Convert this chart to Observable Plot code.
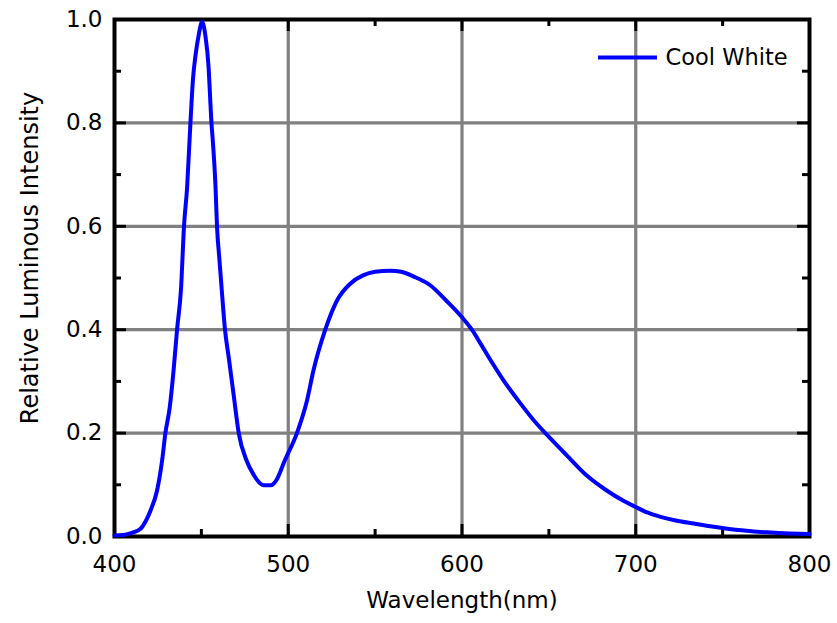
<!DOCTYPE html>
<html>
<head>
<meta charset="utf-8">
<script src="https://cdn.jsdelivr.net/npm/d3@7"></script>
<script src="https://cdn.jsdelivr.net/npm/@observablehq/plot@0.6"></script>
<style>
  html, body { margin: 0; padding: 0; background: #fff; }
  #chart svg { display: block; }
</style>
</head>
<body>
<div id="chart"></div>
<script>
// Data
const wavelength = [400, 405, 410, 415, 418, 420.7, 424.5, 427.4, 429.3, 431.8, 434.1, 436, 438.3, 440, 441.8, 443.7, 445.2, 446.6, 448.4, 450.4, 452.3, 454.2, 455.2, 455.8, 456.5, 458.1, 459, 460.4, 462, 463.6, 465.8, 468.6, 471.5, 476, 480, 484, 486, 490, 493, 498, 505, 510.8, 514.5, 521.3, 528, 535.7, 543, 550, 558.7, 565, 572, 581.7, 591, 600, 605.7, 610.5, 617, 623.9, 633.5, 643, 648.8, 660.3, 671.8, 683.3, 692.9, 700, 707, 714.3, 723, 733.5, 752.7, 775.7, 799, 800];
const intensity = [0.002, 0.003, 0.007, 0.015, 0.03, 0.05, 0.089, 0.147, 0.2, 0.25, 0.325, 0.4, 0.48, 0.6, 0.676, 0.8, 0.886, 0.93, 0.969, 0.995, 0.969, 0.905, 0.838, 0.8, 0.769, 0.679, 0.6, 0.535, 0.465, 0.4, 0.345, 0.273, 0.2, 0.147, 0.12, 0.102, 0.099, 0.099, 0.108, 0.147, 0.2, 0.263, 0.321, 0.4, 0.456, 0.489, 0.505, 0.512, 0.514, 0.512, 0.503, 0.486, 0.456, 0.424, 0.4, 0.374, 0.338, 0.302, 0.258, 0.218, 0.197, 0.157, 0.118, 0.089, 0.069, 0.057, 0.046, 0.038, 0.031, 0.025, 0.015, 0.008, 0.005, 0.005];
const seriesName = "Cool White";

const xMajor = [400, 500, 600, 700, 800];
const xMinor = [450, 550, 650, 750];
const xGrid = [500, 600, 700];
const yMajor = [0, 0.2, 0.4, 0.6, 0.8, 1.0];
const yMinor = [0.1, 0.3, 0.5, 0.7, 0.9];
const yGrid = [0.2, 0.4, 0.6, 0.8];
const xLabel = "Wavelength(nm)";
const yLabel = "Relative Luminous Intensity";

const data = wavelength.map((w, i) => ({w, v: intensity[i]}));

const W = 837, H = 623;
const mt = 19, mb = 87, ml = 114, mr = 28;
const plotW = W - ml - mr, plotH = H - mt - mb;
const majorLen = 12, minorLen = 7;
const font = "DejaVu Sans";
const blue = "#0000ff";

function legendSwatch(index, scales, values, dims) {
  const x1 = dims.width - dims.marginRight - 211;
  const x2 = dims.width - dims.marginRight - 152;
  const y = dims.marginTop + 38.5;
  const line = document.createElementNS("http://www.w3.org/2000/svg", "line");
  line.setAttribute("x1", x1); line.setAttribute("x2", x2);
  line.setAttribute("y1", y); line.setAttribute("y2", y);
  line.setAttribute("stroke", blue);
  line.setAttribute("stroke-width", 4);
  return line;
}

const tickStyle = {stroke: "black", strokeWidth: 3};

const chart = Plot.plot({
  width: W, height: H,
  marginTop: mt, marginBottom: mb, marginLeft: ml, marginRight: mr,
  style: {fontFamily: font, background: "#fff", color: "black"},
  x: {domain: [400, 800]},
  y: {domain: [0, 1]},
  marks: [
    Plot.ruleX(xGrid, {x: d => d, stroke: "#808080", strokeWidth: 3.2}),
    Plot.ruleY(yGrid, {y: d => d, stroke: "#808080", strokeWidth: 3.2}),
    // inward ticks: bottom, top
    Plot.ruleX(xMajor, {x: d => d, insetTop: plotH - majorLen, ...tickStyle}),
    Plot.ruleX(xMajor, {x: d => d, insetBottom: plotH - majorLen, ...tickStyle}),
    Plot.ruleX(xMinor, {x: d => d, insetTop: plotH - minorLen, ...tickStyle}),
    Plot.ruleX(xMinor, {x: d => d, insetBottom: plotH - minorLen, ...tickStyle}),
    // inward ticks: left, right
    Plot.ruleY(yMajor, {y: d => d, insetRight: plotW - majorLen, ...tickStyle}),
    Plot.ruleY(yMajor, {y: d => d, insetLeft: plotW - majorLen, ...tickStyle}),
    Plot.ruleY(yMinor, {y: d => d, insetRight: plotW - minorLen, ...tickStyle}),
    Plot.ruleY(yMinor, {y: d => d, insetLeft: plotW - minorLen, ...tickStyle}),
    Plot.frame({stroke: "black", strokeWidth: 4}),
    Plot.line(data, {x: "w", y: "v", stroke: blue, strokeWidth: 4, strokeLinejoin: "round", curve: "monotone-x"}),
    Plot.axisX({ticks: xMajor, tickSize: 0, tickPadding: 19, fontSize: 23, label: null, tickFormat: d3.format("d")}),
    Plot.axisY({ticks: yMajor, tickSize: 0, tickPadding: 12, fontSize: 23, label: null, tickFormat: d3.format(".1f")}),
    Plot.text([xLabel], {text: d => d, frameAnchor: "bottom", dy: 64.6, textAnchor: "middle", lineAnchor: "middle", fontSize: 23, fill: "black"}),
    Plot.text([yLabel], {text: d => d, frameAnchor: "left", dx: -84, dy: -20, rotate: -90, textAnchor: "middle", lineAnchor: "middle", fontSize: 24, fill: "black"}),
    Plot.text([seriesName], {text: d => d, frameAnchor: "top-right", dx: -144, dy: 38.5, textAnchor: "start", lineAnchor: "middle", fontSize: 22.5, fill: "black"}),
    legendSwatch
  ]
});

document.getElementById("chart").appendChild(chart);
</script>
</body>
</html>
